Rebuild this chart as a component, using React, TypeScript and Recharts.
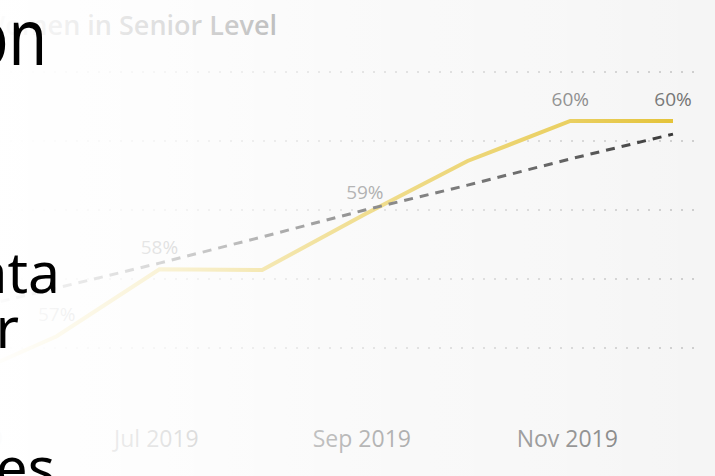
import { LineChart, Line, XAxis, YAxis, CartesianGrid } from 'recharts';

// monthly share of women in senior level
const months = ['May 2019', 'Jun 2019', 'Jul 2019', 'Aug 2019', 'Sep 2019', 'Oct 2019', 'Nov 2019', 'Dec 2019'];
const share = [56.51, 57.17, 58.14, 58.13, 58.94, 59.71, 60.29, 60.29];
const trend = [57.51, 57.87, 58.23, 58.61, 59.0, 59.36, 59.74, 60.1];
const pointLabels = ['', '57%', '58%', '', '59%', '', '60%', '60%'];
const yTicks = [57, 58, 59, 60, 61];

// slide text that sits over the chart, cut off at the left edge
const slideText = [
  { text: 'on', x: 47, y: 65, size: 78, squeeze: 0.8 },
  { text: 'ata', x: 60, y: 293, size: 57, squeeze: 1 },
  { text: 'r', x: 19, y: 348, size: 57, squeeze: 1 },
  { text: 'es', x: 55, y: 488, size: 57, squeeze: 1 },
];

const data = months.map((m, i) => ({ month: m, share: share[i], trend: trend[i] }));

const FONT = '"Open Sans", "Noto Sans", sans-serif';

function PointLabel(props: any) {
  const { x, y, index } = props;
  const text = pointLabels[index];
  if (!text) return null;
  return (
    <text x={x} y={y - 15} textAnchor="middle" fontFamily={FONT} fontSize={19} fill="#6e6e6e">
      {text}
    </text>
  );
}

function MonthTick(props: any) {
  const { x, y, payload } = props;
  return (
    <text x={x - 3} y={y + 22} textAnchor="middle" fontFamily={FONT} fontSize={23} fill="#767676">
      {payload.value}
    </text>
  );
}

export default function App() {
  return (
    <div style={{ position: 'fixed', left: 0, top: 0, width: 715, height: 476, overflow: 'hidden', background: '#f5f5f5' }}>
      <div style={{ position: 'absolute', left: -100, top: 0 }}>
        <LineChart width={815} height={476} data={data} margin={{ top: 72, right: 15, bottom: 0, left: 0 }}>
          <CartesianGrid
            vertical={false}
            horizontalValues={yTicks}
            stroke="#cdcdcd"
            strokeWidth={2}
            strokeDasharray="2 9"
          />
          <XAxis
            dataKey="month"
            interval={1}
            axisLine={false}
            tickLine={false}
            height={59}
            padding={{ left: 54, right: 27 }}
            tick={<MonthTick />}
          />
          <YAxis hide domain={[56, 61]} ticks={yTicks} />
          <Line
            type="linear"
            dataKey="share"
            stroke="#e3c02e"
            strokeWidth={4}
            dot={false}
            label={<PointLabel />}
            isAnimationActive={false}
          />
          <Line
            type="linear"
            dataKey="trend"
            stroke="#2e2e2e"
            strokeWidth={3}
            strokeDasharray="9 7"
            dot={false}
            isAnimationActive={false}
          />
        </LineChart>
      </div>
      <svg width={715} height={476} style={{ position: 'absolute', left: 0, top: 0 }}>
        <text x={277} y={35} textAnchor="end" fontFamily={FONT} fontWeight={600} fontSize={27} fill="#5a5a5a">
          Women in Senior Level
        </text>
      </svg>
      <div
        style={{
          position: 'absolute',
          left: 0,
          top: 0,
          width: 715,
          height: 476,
          background:
            'linear-gradient(to right, rgba(255,255,255,0.98) 0px, rgba(255,255,255,0.81) 157px, rgba(255,255,255,0.47) 362px, rgba(255,255,255,0.25) 566px, rgba(255,255,255,0.06) 672px, rgba(255,255,255,0) 715px)',
        }}
      />
      <svg width={715} height={476} style={{ position: 'absolute', left: 0, top: 0 }}>
        {slideText.map((t) => (
          <text
            key={t.text}
            transform={`translate(${t.x},${t.y}) scale(${t.squeeze},1)`}
            textAnchor="end"
            fontFamily='"Noto Sans", sans-serif'
            fontSize={t.size}
            fill="#000"
          >
            {t.text}
          </text>
        ))}
      </svg>
    </div>
  );
}
